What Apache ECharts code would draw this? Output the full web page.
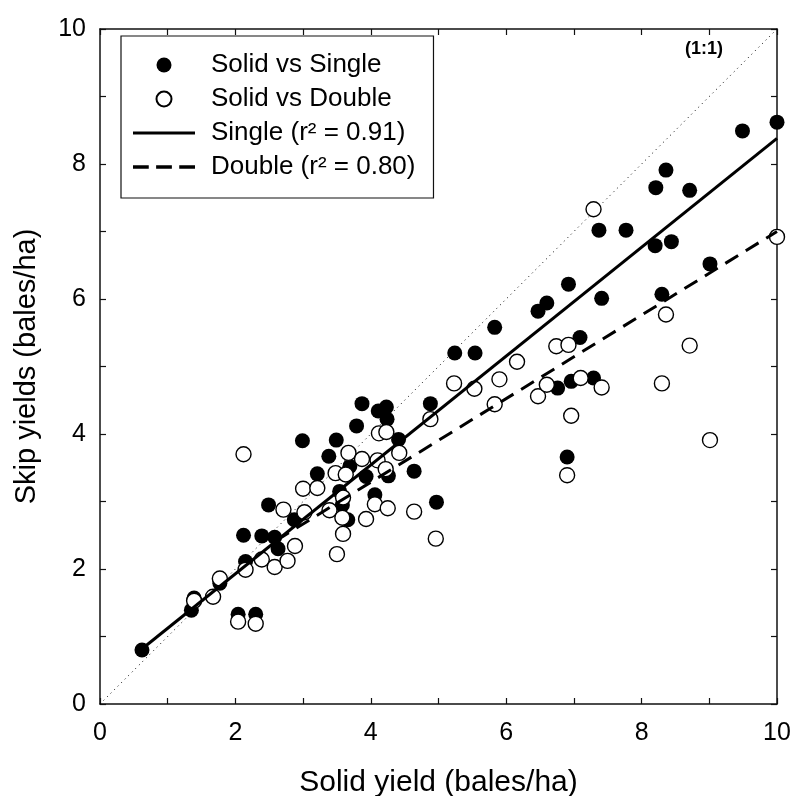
<!DOCTYPE html>
<html>
<head>
<meta charset="utf-8">
<script src="https://cdn.jsdelivr.net/npm/echarts@6/dist/echarts.min.js"></script>
<style>
html,body{margin:0;padding:0;background:#fff;}
#chart{width:795px;height:796px;}
</style>
</head>
<body>
<div id="chart"></div>
<script>
// Solid vs Single (filled circles): [solid yield, skip yield]
const singlePoints = [
  [0.62,0.80],[1.35,1.39],[1.39,1.57],[1.77,1.79],[2.04,1.33],[2.30,1.33],
  [2.15,2.11],[2.12,2.50],[2.39,2.49],[2.58,2.47],[2.49,2.95],[2.63,2.30],
  [2.87,2.73],[2.99,3.90],[3.21,3.41],[3.38,3.67],[3.49,3.91],[3.54,3.15],
  [3.69,3.52],[3.66,2.73],[3.58,2.95],[3.79,4.12],[3.87,4.45],[3.93,3.37],
  [4.06,3.10],[4.11,4.34],[4.23,4.40],[4.24,4.22],[4.26,3.38],[4.41,3.92],
  [4.64,3.45],[4.88,4.45],[4.97,2.99],[5.24,5.20],[5.54,5.20],[5.83,5.58],
  [6.47,5.82],[6.60,5.94],[6.92,6.22],[6.76,4.68],[6.96,4.78],[6.90,3.66],
  [7.09,5.43],[7.29,4.83],[7.37,7.02],[7.41,6.01],[7.77,7.02],[8.20,6.79],
  [8.21,7.65],[8.36,7.91],[8.44,6.85],[8.30,6.07],[8.71,7.61],[9.01,6.52],
  [9.49,8.49],[10.0,8.62]
];
// Solid vs Double (open circles)
const doublePoints = [
  [1.39,1.53],[1.67,1.59],[1.77,1.86],[2.04,1.22],[2.30,1.19],[2.15,1.99],
  [2.12,3.70],[2.39,2.14],[2.58,2.03],[2.77,2.12],[2.88,2.34],[2.71,2.88],
  [3.00,3.19],[3.02,2.84],[3.21,3.20],[3.39,2.87],[3.48,3.42],[3.63,3.40],
  [3.50,2.22],[3.59,2.52],[3.58,2.76],[3.59,3.06],[3.67,3.72],[3.87,3.63],
  [3.93,2.74],[4.06,2.96],[4.10,3.61],[4.12,4.01],[4.23,4.03],[4.22,3.48],
  [4.25,2.90],[4.42,3.72],[4.64,2.85],[4.88,4.22],[4.96,2.45],[5.23,4.75],
  [5.53,4.67],[5.83,4.44],[5.90,4.81],[6.16,5.07],[6.47,4.56],[6.60,4.73],
  [6.74,5.30],[6.92,5.32],[6.96,4.27],[6.90,3.39],[7.10,4.83],[7.29,7.33],
  [7.41,4.69],[8.30,4.75],[8.36,5.77],[8.71,5.31],[9.01,3.91],[10.0,6.92]
];
// Regression lines and 1:1 line (end points)
const singleFit = [[0.6,0.80],[10,8.38]];
const doubleFit = [[2.6,2.42],[10,7.0]];
const oneToOne = [[0,0],[10,10]];

const xTickLabels = [0,2,4,6,8,10];
const yTickLabels = [0,2,4,6,8,10];
const seriesNames = ['Solid vs Single','Solid vs Double','Single (r² = 0.91)','Double (r² = 0.80)'];

const FONT = 'Liberation Sans';
const chart = echarts.init(document.getElementById('chart'), null, {renderer:'canvas'});

const axisCommon = {
  type:'value', min:0, max:10, interval:1,
  axisLine:{show:true, onZero:false, lineStyle:{color:'#111', width:1.5}},
  axisTick:{show:true, inside:true, length:6, lineStyle:{color:'#111', width:1.2}},
  splitLine:{show:false}
};

chart.setOption({
  animation:false,
  backgroundColor:'#fff',
  textStyle:{fontFamily:FONT},
  grid:{left:100, top:29, right:18, bottom:92, containLabel:false, outerBoundsMode:'none'},
  xAxis:[
    Object.assign({}, axisCommon, {
      position:'bottom',
      name:'Solid yield (bales/ha)', nameLocation:'middle', nameGap:64,
      nameTextStyle:{fontSize:30, color:'#000', fontFamily:FONT},
      axisLabel:{show:true, margin:17, fontSize:25, color:'#000', fontFamily:FONT,
        formatter:v => xTickLabels.includes(v) ? String(v) : ''}
    }),
    Object.assign({}, axisCommon, {position:'top', axisLabel:{show:false}})
  ],
  yAxis:[
    Object.assign({}, axisCommon, {
      position:'left',
      name:'Skip yields (bales/ha)', nameLocation:'middle', nameGap:59,
      nameTextStyle:{fontSize:29, color:'#000', fontFamily:FONT},
      axisLabel:{show:true, margin:14, fontSize:25, color:'#000', fontFamily:FONT,
        formatter:v => yTickLabels.includes(v) ? String(v) : ''}
    }),
    Object.assign({}, axisCommon, {position:'right', axisLabel:{show:false}})
  ],
  legend:{
    orient:'vertical', left:121, top:36,
    backgroundColor:'#fff', borderColor:'#111', borderWidth:1.2,
    padding:[16,18,18,12], itemGap:8, itemWidth:62, itemHeight:15,
    textStyle:{fontSize:26, color:'#000', fontFamily:FONT, padding:[0,0,0,11]},
    data:[
      {name:seriesNames[0], icon:'circle'},
      {name:seriesNames[1], icon:'circle'},
      {name:seriesNames[2], icon:'path://M0,0H62V3.2H0Z'},
      {name:seriesNames[3], icon:'path://M0,0H15V3.2H0Z M22,0H37V3.2H22Z M44,0H59V3.2H44Z'}
    ]
  },
  graphic:[{
    type:'text', left:685, top:40,
    style:{text:'(1:1)', fontSize:18, fontWeight:'bold', fill:'#000', fontFamily:FONT}
  }],
  series:[
    {
      name:'1:1', type:'line', data:oneToOne, symbol:'none', silent:true,
      lineStyle:{color:'#000', width:1, type:[1,4]}, z:1
    },
    {
      name:seriesNames[0], type:'scatter', data:singlePoints, symbol:'circle', symbolSize:15,
      itemStyle:{color:'#000', borderWidth:0, opacity:1}, z:2
    },
    {
      name:seriesNames[1], type:'scatter', data:doublePoints, symbol:'circle', symbolSize:15,
      itemStyle:{color:'#fff', borderColor:'#000', borderWidth:1.4, opacity:1}, z:3
    },
    {
      name:seriesNames[2], type:'line', data:singleFit, symbol:'none',
      itemStyle:{color:'#000'}, lineStyle:{color:'#000', width:3, type:'solid'}, z:4
    },
    {
      name:seriesNames[3], type:'line', data:doubleFit, symbol:'none',
      itemStyle:{color:'#000'}, lineStyle:{color:'#000', width:3, type:[15,9]}, z:4
    }
  ]
});
</script>
</body>
</html>
